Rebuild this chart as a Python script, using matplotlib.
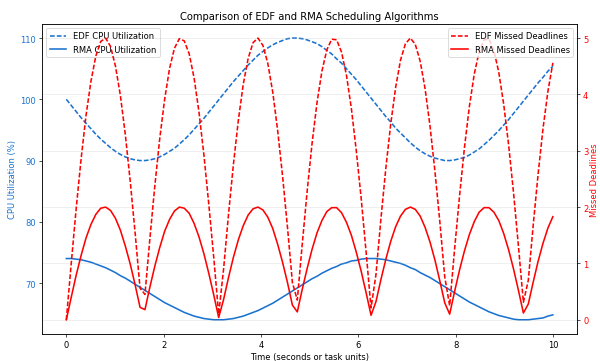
import numpy as np
import matplotlib
matplotlib.use("Agg")
import matplotlib.pyplot as plt

# ======================================================
# DATA (100 samples from 0 to 10)
# ======================================================
time = np.linspace(0, 10, 100)

edf_cpu = [
    100.0, 99.0, 98.0, 97.0, 96.1, 95.2, 94.3, 93.5, 92.8, 92.1,
    91.5, 91.0, 90.6, 90.3, 90.1, 90.0, 90.0, 90.1, 90.3, 90.6,
    91.0, 91.5, 92.0, 92.7, 93.4, 94.2, 95.1, 96.0, 96.9, 97.9,
    98.9, 99.9, 100.9, 101.9, 102.9, 103.8, 104.7, 105.6, 106.4, 107.2,
    107.8, 108.4, 108.9, 109.3, 109.6, 109.9, 110.0, 110.0, 109.9, 109.7,
    109.4, 109.1, 108.6, 108.0, 107.4, 106.6, 105.9, 105.0, 104.1, 103.2,
    102.2, 101.2, 100.2, 99.2, 98.2, 97.2, 96.3, 95.3, 94.5, 93.7,
    92.9, 92.2, 91.6, 91.1, 90.7, 90.4, 90.2, 90.0, 90.0, 90.1,
    90.3, 90.5, 90.9, 91.4, 91.9, 92.6, 93.3, 94.1, 94.9, 95.8,
    96.7, 97.7, 98.7, 99.7, 100.7, 101.7, 102.7, 103.6, 104.6, 105.4,
]

rma_cpu = [
    74.0, 74.0, 73.9, 73.8, 73.6, 73.4, 73.1, 72.8, 72.5, 72.1,
    71.7, 71.2, 70.8, 70.3, 69.8, 69.3, 68.8, 68.3, 67.8, 67.3,
    66.8, 66.4, 66.0, 65.6, 65.2, 64.9, 64.6, 64.4, 64.2, 64.1,
    64.0, 64.0, 64.0, 64.1, 64.2, 64.4, 64.6, 64.9, 65.2, 65.5,
    65.9, 66.3, 66.7, 67.2, 67.7, 68.2, 68.7, 69.2, 69.7, 70.2,
    70.7, 71.1, 71.6, 72.0, 72.4, 72.7, 73.1, 73.3, 73.6, 73.7,
    73.9, 74.0, 74.0, 74.0, 73.9, 73.8, 73.6, 73.4, 73.2, 72.9,
    72.5, 72.2, 71.7, 71.3, 70.9, 70.4, 69.9, 69.4, 68.9, 68.4,
    67.9, 67.4, 66.9, 66.5, 66.1, 65.7, 65.3, 65.0, 64.7, 64.5,
    64.3, 64.1, 64.0, 64.0, 64.0, 64.1, 64.2, 64.3, 64.6, 64.8,
]

edf_missed = [
    0.00, 1.00, 1.97, 2.85, 3.62, 4.23, 4.68, 4.94, 5.00, 4.85,
    4.50, 3.98, 3.29, 2.46, 1.54, 0.56, 0.45, 1.44, 2.37, 3.21,
    3.91, 4.46, 4.82, 4.99, 4.95, 4.72, 4.29, 3.68, 2.92, 2.04,
    1.10, 0.10, 0.90, 1.87, 2.76, 3.54, 4.18, 4.64, 4.92, 5.00,
    4.87, 4.55, 4.04, 3.36, 2.55, 1.64, 0.66, 0.35, 1.34, 2.28,
    3.13, 3.85, 4.41, 4.79, 4.98, 4.97, 4.75, 4.34, 3.75, 3.00,
    2.15, 1.20, 0.21, 0.80, 1.78, 2.68, 3.47, 4.12, 4.61, 4.90,
    5.00, 4.89, 4.59, 4.10, 3.44, 2.64, 1.74, 0.76, 0.25, 1.25,
    2.19, 3.05, 3.78, 4.36, 4.76, 4.97, 4.98, 4.78, 4.39, 3.82,
    3.10, 2.25, 1.30, 0.31, 0.70, 1.68, 2.59, 3.40, 4.06, 4.56,
]

rma_missed = [
    0.00, 0.40, 0.79, 1.14, 1.45, 1.69, 1.87, 1.98, 2.00, 1.94,
    1.80, 1.59, 1.31, 0.99, 0.62, 0.22, 0.18, 0.58, 0.95, 1.28,
    1.57, 1.78, 1.93, 2.00, 1.98, 1.89, 1.71, 1.47, 1.17, 0.82,
    0.44, 0.04, 0.36, 0.75, 1.11, 1.42, 1.67, 1.86, 1.97, 2.00,
    1.95, 1.82, 1.62, 1.34, 1.02, 0.66, 0.26, 0.14, 0.54, 0.91,
    1.25, 1.54, 1.76, 1.92, 1.99, 1.99, 1.90, 1.73, 1.50, 1.20,
    0.86, 0.48, 0.08, 0.32, 0.71, 1.07, 1.39, 1.65, 1.84, 1.96,
    2.00, 1.96, 1.84, 1.64, 1.38, 1.06, 0.69, 0.30, 0.10, 0.50,
    0.88, 1.22, 1.51, 1.74, 1.91, 1.99, 1.99, 1.91, 1.76, 1.53,
    1.24, 0.90, 0.52, 0.12, 0.28, 0.67, 1.04, 1.36, 1.63, 1.83,
]

# ======================================================
# STYLE
# ======================================================
BLUE = "#1a72cf"
RED = "red"
LW = 1.9
DASH = (3.0, 1.3)

# ======================================================
# PLOT
# ======================================================
fig, ax1 = plt.subplots(figsize=(10, 6.033), dpi=60)

ax1.plot(time, edf_cpu, "--", color=BLUE, lw=LW, dashes=DASH, label="EDF CPU Utilization")
ax1.plot(time, rma_cpu, "-", color=BLUE, lw=LW, label="RMA CPU Utilization")
ax1.set_xlabel("Time (seconds or task units)")
ax1.set_ylabel("CPU Utilization (%)", color=BLUE)
ax1.tick_params(axis="y", labelcolor=BLUE)
ax1.legend(loc="upper left")

ax2 = ax1.twinx()
ax2.plot(time, edf_missed, "--", color=RED, lw=LW, dashes=DASH, label="EDF Missed Deadlines")
ax2.plot(time, rma_missed, "-", color=RED, lw=LW, label="RMA Missed Deadlines")
ax2.set_ylabel("Missed Deadlines", color=RED, labelpad=2)
ax2.tick_params(axis="y", labelcolor=RED)
ax2.legend(loc="upper right")
ax2.grid(True, alpha=0.3)

plt.title("Comparison of EDF and RMA Scheduling Algorithms")
fig.subplots_adjust(left=0.07, right=0.962, bottom=0.075, top=0.931)

plt.savefig("out.png")
